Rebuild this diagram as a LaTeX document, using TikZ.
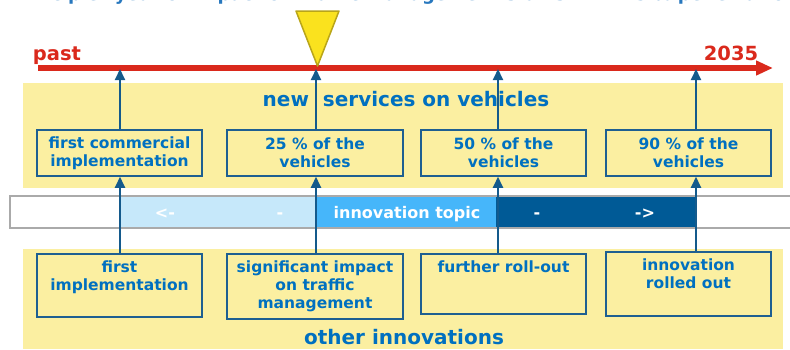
\documentclass[tikz,border=0pt]{standalone}
\usepackage{fontspec}
\setmainfont{DejaVu Sans}
\usetikzlibrary{arrows.meta}
\definecolor{txtblue}{RGB}{0,112,192}
\definecolor{boxblue}{RGB}{30,95,145}
\definecolor{arrblue}{RGB}{20,90,140}
\definecolor{band}{RGB}{251,239,161}
\definecolor{tlred}{RGB}{218,41,28}
\definecolor{trifill}{RGB}{250,226,30}
\definecolor{tribord}{RGB}{185,165,25}
\definecolor{lightb}{RGB}{198,232,250}
\definecolor{midb}{RGB}{70,182,250}
\definecolor{darkb}{RGB}{0,90,150}
\definecolor{barline}{RGB}{170,170,170}
\definecolor{toptxt}{RGB}{40,120,190}
\begin{document}
\begin{tikzpicture}[x=1pt,y=-1pt,
  boxtxt/.style={font=\bfseries\fontsize{15.5}{18}\selectfont, text=txtblue},
  ubox/.style={boxtxt, draw=boxblue, line width=1.5pt, fill=band, minimum width=165pt,
     minimum height=46pt, inner sep=0pt, align=center},
  lbox/.style={boxtxt, draw=boxblue, line width=1.5pt, fill=band, minimum width=165pt,
     inner sep=4pt},
  conn/.style={draw=arrblue, line width=2pt, -{Triangle[width=10pt,length=11pt]}},
  bartext/.style={text=white, font=\bfseries\fontsize{16}{18}\selectfont, anchor=base, inner sep=0pt},
  bandtitle/.style={text=txtblue, font=\bfseries\fontsize{20}{24}\selectfont, anchor=base, inner sep=0pt},
  tltext/.style={text=tlred, font=\bfseries\fontsize{19.5}{22}\selectfont, anchor=base, inner sep=0pt},
  seg/.style={inner sep=0pt, minimum height=30pt, anchor=west}
]
\useasboundingbox (0,0) rectangle (790,349);

% bands
\fill[band] (23,83) rectangle (783,188);
\fill[band] (23,249) rectangle (783,349);

% clipped heading
\node[text=toptxt, font=\bfseries\fontsize{18}{22}\selectfont, anchor=base west, inner sep=0pt]
  (head) at (10,0.5) {Principle: year of impact on traffic management starts with 25 \% penetration};

% innovation bar
\draw[barline, line width=1.2pt] (10,196) rectangle (800,228);
\node[seg, fill=lightb, minimum width=196pt] (s1) at (120,212) {};
\node[seg, fill=midb, minimum width=180pt] (s2) at (316,212) {};
\node[seg, fill=darkb, minimum width=200pt] (s3) at (496,212) {};
\node[bartext] (b1) at (165,218) {<-};
\node[bartext] (b2) at (280,218) {-};
\node[bartext] (b3) at (407,218) {innovation topic};
\node[bartext] (b4) at (537,218) {-};
\node[bartext] (b5) at (645,218) {->};

% timeline
\coordinate (tlS) at (38,68);
\coordinate (tlE) at (773,68);
\draw[tlred, line width=6pt, -{Triangle[width=14pt,length=17pt]}] (tlS) -- (tlE);
\node[tltext] (past) at (57,60) {past};
\node[tltext] (yr) at (731,60) {2035};

% marker triangle
\filldraw[fill=trifill, draw=tribord, line width=1.5pt, line join=round]
  (296,11) -- (339,11) -- (317.5,66) -- cycle;

\coordinate (t1) at (120,69);
\coordinate (t2) at (316,69);
\coordinate (t3) at (498,69);
\coordinate (t4) at (696,69);

% band titles
\node[bandtitle] (nsv) at (406,106) {new\ \ services on vehicles};
\node[bandtitle] (oin) at (404,344) {other innovations};

% upper boxes
\node[ubox] (u1) at (119.5,153) {first commercial\\implementation};
\node[ubox, minimum width=176pt] (u2) at (315,153) {25 \% of the\\vehicles};
\node[ubox] (u3) at (503.5,153) {50 \% of the\\vehicles};
\node[ubox] (u4) at (688.5,153) {90 \% of the\\vehicles};

% lower boxes
\node[lbox] (l1) at (119.5,285.5) {\parbox[c][55pt][t]{157pt}{\centering\vspace*{3pt}first\\implementation}};
\node[lbox] (l2) at (315,286.5) {\parbox[c][57pt][t]{168pt}{\centering\vspace*{3pt}significant impact\\on traffic\\management}};
\node[lbox] (l3) at (503.5,284) {\parbox[c][52pt][t]{157pt}{\centering\vspace*{3pt}further roll-out}};
\node[lbox] (l4) at (688.5,284) {\parbox[c][56pt][t]{157pt}{\centering\vspace*{3pt}innovation\\rolled out}};

% connectors
\foreach \i in {1,2,3,4} {
  \draw[conn] (u\i.north -| t\i) -- (t\i);
  \draw[conn] (l\i.north -| t\i) -- (u\i.south -| t\i);
}
\end{tikzpicture}
\end{document}
